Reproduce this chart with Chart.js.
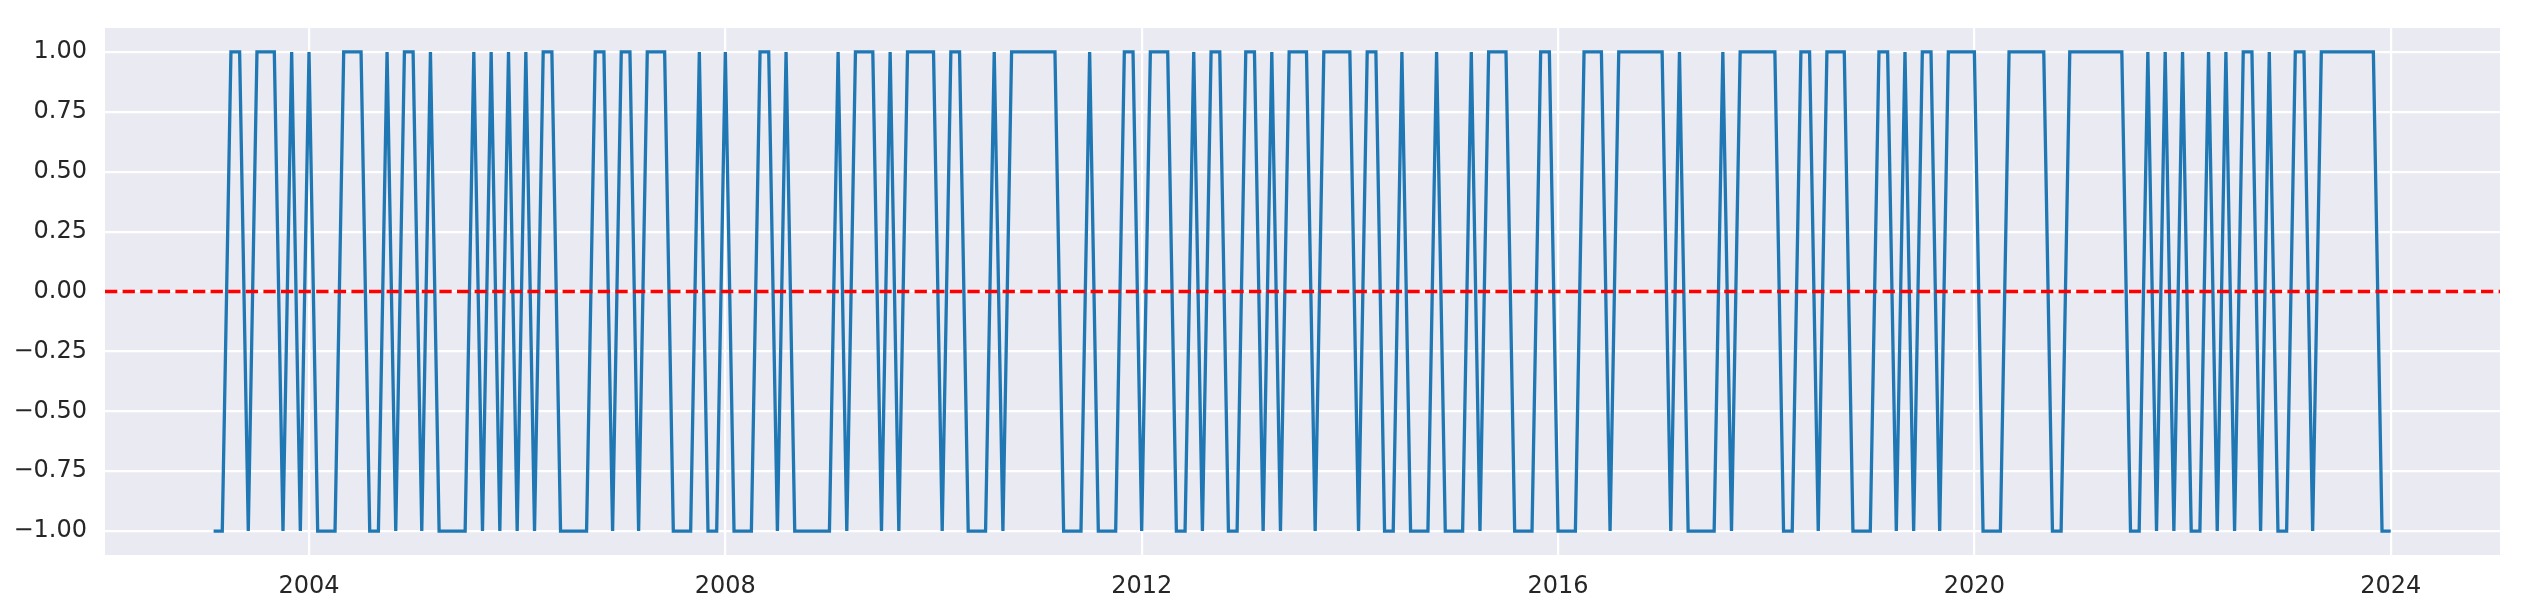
<!DOCTYPE html>
<html>
<head>
<meta charset="utf-8">
<script src="https://cdn.jsdelivr.net/npm/chart.js@4/dist/chart.umd.min.js"></script>
<style>
  html, body { margin: 0; padding: 0; background: #ffffff; }
  canvas { display: block; }
</style>
</head>
<body>
<canvas id="grafico" width="2522" height="608"></canvas>
<script>
  // primeiro mês da série (jan/2003), um valor por mês até dez/2023
  const anoInicio = 2003;

  // sinal mensal (+1 / -1), uma linha por ano
  const sinal = [
    -1, -1,  1,  1, -1,  1,  1,  1, -1,  1, -1,  1, // 2003
    -1, -1, -1,  1,  1,  1, -1, -1,  1, -1,  1,  1, // 2004
    -1,  1, -1, -1, -1, -1,  1, -1,  1, -1,  1, -1, // 2005
     1, -1,  1,  1, -1, -1, -1, -1,  1,  1, -1,  1, // 2006
     1, -1,  1,  1,  1, -1, -1, -1,  1, -1, -1,  1, // 2007
    -1, -1, -1,  1,  1, -1,  1, -1, -1, -1, -1, -1, // 2008
     1, -1,  1,  1,  1, -1,  1, -1,  1,  1,  1,  1, // 2009
    -1,  1,  1, -1, -1, -1,  1, -1,  1,  1,  1,  1, // 2010
     1,  1, -1, -1, -1,  1, -1, -1, -1,  1,  1, -1, // 2011
     1,  1,  1, -1, -1,  1, -1,  1,  1, -1, -1,  1, // 2012
     1, -1,  1, -1,  1,  1,  1, -1,  1,  1,  1,  1, // 2013
    -1,  1,  1, -1, -1,  1, -1, -1, -1,  1, -1, -1, // 2014
    -1,  1, -1,  1,  1,  1, -1, -1, -1,  1,  1, -1, // 2015
    -1, -1,  1,  1,  1, -1,  1,  1,  1,  1,  1,  1, // 2016
    -1,  1, -1, -1, -1, -1,  1, -1,  1,  1,  1,  1, // 2017
     1, -1, -1,  1,  1, -1,  1,  1,  1, -1, -1, -1, // 2018
     1,  1, -1,  1, -1,  1,  1, -1,  1,  1,  1,  1, // 2019
    -1, -1, -1,  1,  1,  1,  1,  1, -1, -1,  1,  1, // 2020
     1,  1,  1,  1,  1, -1, -1,  1, -1,  1, -1,  1, // 2021
    -1, -1,  1, -1,  1, -1,  1,  1, -1,  1, -1, -1, // 2022
     1,  1, -1,  1,  1,  1,  1,  1,  1,  1, -1, -1  // 2023
  ];

  const ticksX = [2004, 2008, 2012, 2016, 2020, 2024];
  const ticksY = [-1.0, -0.75, -0.5, -0.25, 0.0, 0.25, 0.5, 0.75, 1.0];
  const linhaZero = 0;

  // limites dos eixos (margem de 5% como no original)
  const xMin = 2002.04, xMax = 2025.05;
  const yMin = -1.1, yMax = 1.1;

  // fim de cada mês em anos decimais
  const pontos = sinal.map((v, i) => ({ x: anoInicio + (i + 1) / 12, y: v }));

  const corTexto = "#262626";
  const fonte = { family: "'DejaVu Sans', sans-serif", size: 24 };

  // fundo cinza-azulado da área do gráfico
  const fundoArea = {
    id: "fundoArea",
    beforeDraw(chart) {
      const { ctx, chartArea } = chart;
      ctx.save();
      ctx.fillStyle = "#eaeaf2";
      ctx.fillRect(chartArea.left, chartArea.top, chartArea.right - chartArea.left, chartArea.bottom - chartArea.top);
      ctx.restore();
    }
  };

  new Chart(document.getElementById("grafico"), {
    type: "line",
    data: {
      datasets: [
        {
          label: "zero",
          data: [{ x: xMin, y: linhaZero }, { x: xMax, y: linhaZero }],
          borderColor: "#ff0000",
          borderWidth: 3.3,
          borderDash: [12.3, 5.3],
          pointRadius: 0,
          order: 0
        },
        {
          label: "sinal",
          data: pontos,
          borderColor: "#1f77b4",
          borderWidth: 3.3,
          pointRadius: 0,
          tension: 0,
          order: 1
        }
      ]
    },
    options: {
      responsive: false,
      animation: false,
      layout: { padding: { top: 28, right: 22, bottom: 0, left: 0 } },
      plugins: { legend: { display: false }, tooltip: { enabled: false } },
      scales: {
        x: {
          type: "linear",
          min: xMin,
          max: xMax,
          border: { display: false },
          grid: { color: "#ffffff", lineWidth: 2.2, drawTicks: false },
          afterBuildTicks: (scale) => { scale.ticks = ticksX.map(v => ({ value: v })); },
          afterFit: (scale) => {
            scale.height = 53;
            scale.paddingLeft = 0;
            scale.paddingRight = 0;
          },
          ticks: {
            autoSkip: false,
            maxRotation: 0,
            padding: 17,
            color: corTexto,
            font: fonte,
            callback: (v) => String(v)
          }
        },
        y: {
          min: yMin,
          max: yMax,
          border: { display: false },
          grid: { color: "#ffffff", lineWidth: 2.2, drawTicks: false },
          afterBuildTicks: (scale) => { scale.ticks = ticksY.map(v => ({ value: v })); },
          afterFit: (scale) => {
            scale.width = 105;
            scale.paddingTop = 0;
            scale.paddingBottom = 0;
          },
          ticks: {
            padding: 18,
            color: corTexto,
            font: fonte,
            callback: (v) => (v < 0 ? "\u2212" : "") + Math.abs(v).toFixed(2)
          }
        }
      }
    },
    plugins: [fundoArea]
  });
</script>
</body>
</html>
